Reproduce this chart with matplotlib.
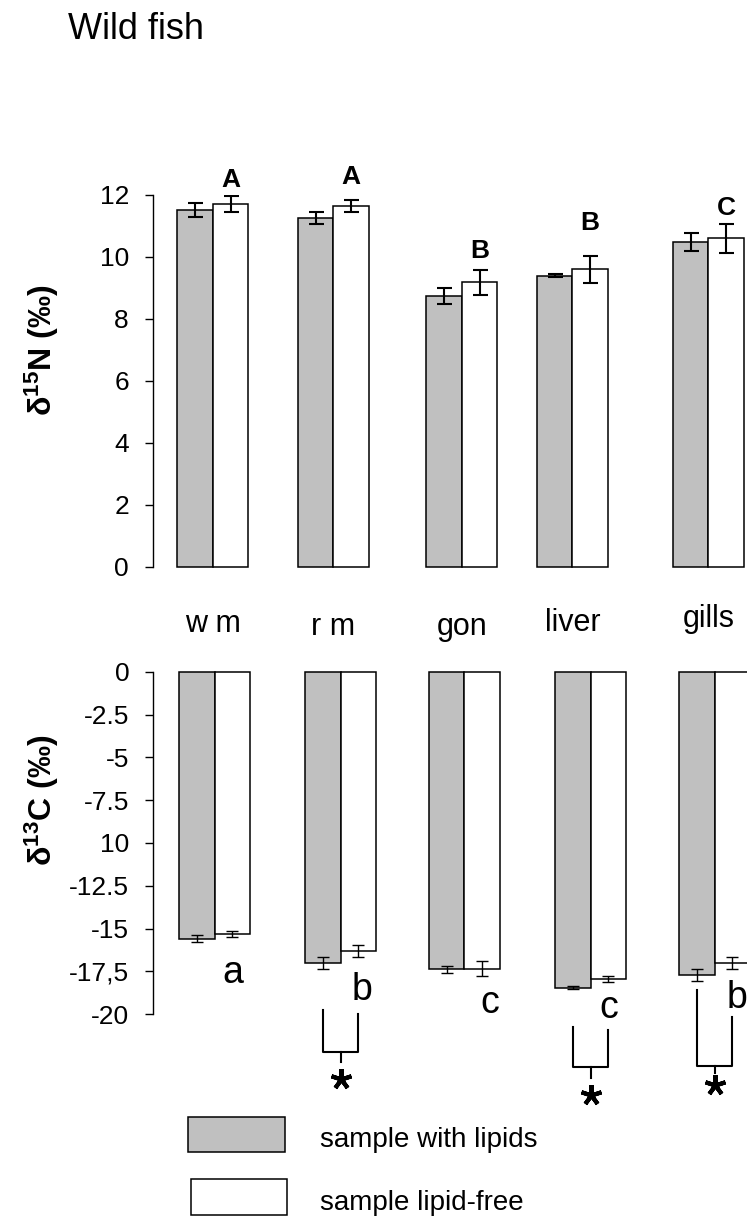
import matplotlib.pyplot as plt
from matplotlib.patches import Rectangle

plt.rcParams['font.family'] = ['Liberation Sans', 'DejaVu Sans']
plt.rcParams['mathtext.fontset'] = 'custom'
plt.rcParams['mathtext.rm'] = 'Liberation Sans:bold'
plt.rcParams['mathtext.it'] = 'Liberation Sans:bold'
plt.rcParams['mathtext.bf'] = 'Liberation Sans:bold'
plt.rcParams['mathtext.default'] = 'rm'

tissues = ['w m', 'r m', 'gon', 'liver', 'gills']

# delta 15N, mean +/- SE
n15_lipids = [11.52, 11.26, 8.74, 9.40, 10.49]
n15_lipids_err = [0.22, 0.20, 0.27, 0.05, 0.30]
n15_free = [11.71, 11.65, 9.19, 9.60, 10.61]
n15_free_err = [0.27, 0.20, 0.40, 0.43, 0.47]
n15_groups = ['A', 'A', 'B', 'B', 'C']

# delta 13C, mean +/- SE
c13_lipids = [-15.59, -17.00, -17.36, -18.45, -17.70]
c13_lipids_err = [0.20, 0.37, 0.20, 0.10, 0.37]
c13_free = [-15.33, -16.29, -17.33, -17.94, -16.99]
c13_free_err = [0.17, 0.36, 0.44, 0.18, 0.36]
c13_groups = ['a', 'b', 'c', 'c', 'b']

n15_ticks = [0, 2, 4, 6, 8, 10, 12]
c13_ticks = [0, -2.5, -5, -7.5, -10, -12.5, -15, -17.5, -20]
c13_ticklabels = ['0', '-2.5', '-5', '-7.5', '10', '-12.5', '-15', '-17,5', '-20']

# layout (group centres in units of group spacing)
top_pos = [0, 0.965, 1.992, 2.877, 3.965]
bottom_pos = [0, 1.008, 1.997, 3.008, 4.0]
BAR_W = 0.284
GRAY = '#c0c0c0'

n15_letter_y = [12.26, 12.35, 9.97, 10.87, 11.35]
tissue_label_y = [-2.10, -2.19, -2.19, -2.06, -1.94]
c13_letter_y = [-18.17, -19.17, -19.93, -20.22, -19.63]
c13_letter_dx = [0, 0.03, 0.06, 0, 0.04]

# paired lipid / lipid-free differences marked with *
# (group index, top left, top right, bracket bottom, tick end, star)
brackets = [
    (1, -19.75, -19.98, -22.2, -22.8, -23.8),
    (3, -20.74, -20.9, -23.08, -23.7, -24.7),
    (4, -18.6, -20.15, -23.0, -23.45, -24.1),
]

W, H = 747, 1218
fig = plt.figure(figsize=(W / 100, H / 100), dpi=100)


def px_axes(left, top, right, bottom):
    return fig.add_axes([left / W, 1 - bottom / H, (right - left) / W, (bottom - top) / H])


def fx(x):
    return x / W


def fy(y):
    return 1 - y / H


def style_axis(ax, ticks, labels=None):
    for side in ['top', 'right', 'bottom']:
        ax.spines[side].set_visible(False)
    ax.spines['left'].set_linewidth(1.0)
    ax.set_yticks(ticks)
    if labels is not None:
        ax.set_yticklabels(labels)
    ax.tick_params(axis='y', direction='out', length=5.8, width=1.0, pad=11.5, labelsize=19)
    ax.tick_params(axis='x', bottom=False, labelbottom=False)


def draw_pairs(ax, pos, lipids, lipids_err, free, free_err, elw, cap):
    ax.bar(pos, lipids, width=-BAR_W, align='edge', color=GRAY,
           edgecolor='black', linewidth=1.1, clip_on=False, zorder=2)
    ax.bar(pos, free, width=BAR_W, align='edge', color='white',
           edgecolor='black', linewidth=1.1, clip_on=False, zorder=2)
    ax.errorbar([p - BAR_W / 2 for p in pos], lipids, yerr=lipids_err, fmt='none',
                ecolor='black', elinewidth=elw, capsize=cap, capthick=elw, zorder=3)
    ax.errorbar([p + BAR_W / 2 for p in pos], free, yerr=free_err, fmt='none',
                ecolor='black', elinewidth=elw, capsize=cap, capthick=elw, zorder=3)


# --- delta 15N ---
ax1 = px_axes(153, 195, 747, 567)
ax1.set_xlim(-0.478, 4.274)
ax1.set_ylim(0, 12)
style_axis(ax1, n15_ticks)
draw_pairs(ax1, top_pos, n15_lipids, n15_lipids_err, n15_free, n15_free_err, 1.5, 5.4)

for p, g, y in zip(top_pos, n15_groups, n15_letter_y):
    ax1.text(p + BAR_W / 2, y, g, ha='center', va='baseline', fontsize=19,
             fontweight='bold', clip_on=False)
for p, name, y in zip(top_pos, tissues, tissue_label_y):
    ax1.text(p, y, name, ha='center', va='baseline', fontsize=22, clip_on=False)

# --- delta 13C ---
ax2 = px_axes(153.3, 671.7, 747, 1014.3)
ax2.set_xlim(-0.491, 4.259)
ax2.set_ylim(-20, 0)
style_axis(ax2, c13_ticks, c13_ticklabels)
draw_pairs(ax2, bottom_pos, c13_lipids, c13_lipids_err, c13_free, c13_free_err, 1.0, 4.3)

for p, g, y, dx in zip(bottom_pos, c13_groups, c13_letter_y, c13_letter_dx):
    ax2.text(p + BAR_W / 2 + dx, y, g, ha='center', va='baseline', fontsize=27,
             clip_on=False)

for i, top_l, top_r, bot, tick_end, star in brackets:
    p = bottom_pos[i]
    xl, xr = p - BAR_W / 2, p + BAR_W / 2
    ax2.plot([xl, xl, xr, xr], [top_l, bot, bot, top_r], color='black',
             lw=1.5, clip_on=False)
    ax2.plot([p, p], [bot, tick_end], color='black', lw=1.5, clip_on=False)
    ax2.plot([p], [star], marker=(5, 2, 0), markersize=15, mew=3.0,
             color='black', clip_on=False)

# axis titles and heading
fig.text(fx(68), fy(39), 'Wild fish', fontsize=26, ha='left', va='baseline')
fig.text(fx(42), fy(350), r'$\delta^{15}$N (‰)', rotation=90, fontsize=23,
         fontweight='bold', ha='center', va='center')
fig.text(fx(42), fy(800), r'$\delta^{13}$C (‰)', rotation=90, fontsize=23,
         fontweight='bold', ha='center', va='center')

# legend
legend_items = [('sample with lipids', GRAY, 1117, 1152, 188, 285, 1146.7),
                ('sample lipid-free', 'white', 1179, 1215, 191, 287, 1210)]
for label, color, top, bottom, left, right, base in legend_items:
    fig.add_artist(Rectangle((fx(left), fy(bottom)), (right - left) / W, (bottom - top) / H,
                             transform=fig.transFigure, facecolor=color,
                             edgecolor='black', linewidth=1.1))
    fig.text(fx(320), fy(base), label, fontsize=20, ha='left', va='baseline')

fig.savefig('out.png', dpi=100)
